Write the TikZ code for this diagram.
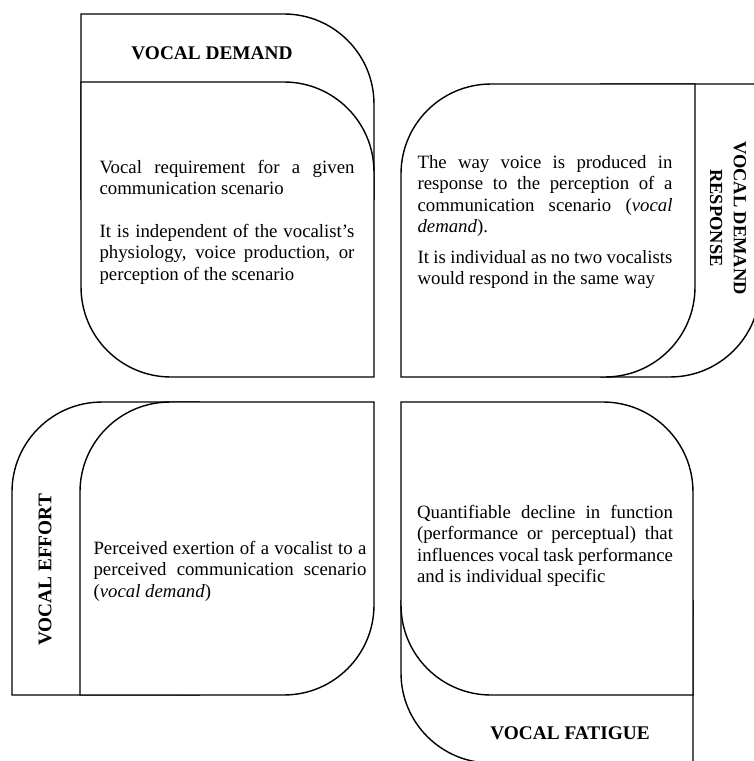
\documentclass[tikz,border=0pt]{standalone}
\usepackage{fontspec}
\setmainfont{Liberation Serif}
\begin{document}
\begin{tikzpicture}[x=0.02cm, y=-0.02cm,
    panel/.style={draw, line width=0.8pt, fill=white},
    headtext/.style={font=\fontsize{11}{13.5}\selectfont\bfseries, inner sep=0pt, align=center},
    bodytext/.style={font=\fontsize{10.7}{12.2}\selectfont, inner sep=0pt, align=justify}]

    % Fix the frame of the picture (pixel grid of the layout)
    \useasboundingbox (0,0) rectangle (754,761);
    \clip (0,0) rectangle (754,761);

    % Top left: header tab above, body below
    \draw[panel] (81,200) -- (81,14) -- (284,14) arc[start angle=90, end angle=0, radius=1.8cm] -- (374,200);
    \draw[panel] (81,82) -- (284,82) arc[start angle=90, end angle=0, radius=1.8cm] -- (374,377)
        -- (171,377) arc[start angle=270, end angle=180, radius=1.8cm] -- cycle;

    % Top right: header tab on the right
    \draw[panel] (600,84) -- (760,84) -- (760,287) arc[start angle=0, end angle=-90, radius=1.8cm] -- (600,377);
    \draw[panel] (401,377) -- (401,174) arc[start angle=180, end angle=90, radius=1.8cm] -- (695,84)
        -- (695,287) arc[start angle=0, end angle=-90, radius=1.8cm] -- cycle;

    % Bottom left: header tab on the left
    \draw[panel] (200,695) -- (12,695) -- (12,492) arc[start angle=180, end angle=90, radius=1.8cm] -- (200,402);
    \draw[panel] (374,402) -- (374,605) arc[start angle=0, end angle=-90, radius=1.8cm] -- (80,695)
        -- (80,492) arc[start angle=180, end angle=90, radius=1.8cm] -- cycle;

    % Bottom right: header tab below
    \draw[panel] (401,600) -- (401,673) arc[start angle=180, end angle=270, radius=1.8cm] -- (693,763) -- (693,600);
    \draw[panel] (401,402) -- (603,402) arc[start angle=90, end angle=0, radius=1.8cm] -- (693,695)
        -- (491,695) arc[start angle=270, end angle=180, radius=1.8cm] -- cycle;

    % Header labels
    \node[headtext] (demand) at (212,53) {VOCAL DEMAND};
    \node[headtext, rotate=-90, font=\fontsize{10.5}{13.5}\selectfont\bfseries] (response) at (728,218) {VOCAL DEMAND\\RESPONSE};
    \node[headtext, rotate=90] (effort) at (45,570) {VOCAL EFFORT};
    \node[headtext] (fatigue) at (570,733) {VOCAL FATIGUE};

    % Body texts
    \node[bodytext, text width=5.1cm] (demandtext) at (227,222)
        {Vocal requirement for a given\linebreak communication scenario\par\vskip 12pt
         It is independent of the vocalist's\linebreak physiology, voice production, or\linebreak perception of the scenario};
    \node[bodytext, text width=5.1cm] (responsetext) at (545,222)
        {The way voice is produced in\linebreak response to the perception of a\linebreak
         communication scenario (\textit{vocal}\linebreak \textit{demand}).\par\vskip 5pt
         It is individual as no two vocalists\linebreak would respond in the same way};
    \node[bodytext, text width=5.46cm] (efforttext) at (230,571)
        {Perceived exertion of a vocalist to a\linebreak perceived communication scenario\linebreak (\textit{vocal demand})};
    \node[bodytext, text width=5.12cm] (fatiguetext) at (545,546)
        {Quantifiable decline in function\linebreak (performance or perceptual) that\linebreak
         influences vocal task performance\linebreak and is individual specific};

\end{tikzpicture}
\end{document}
